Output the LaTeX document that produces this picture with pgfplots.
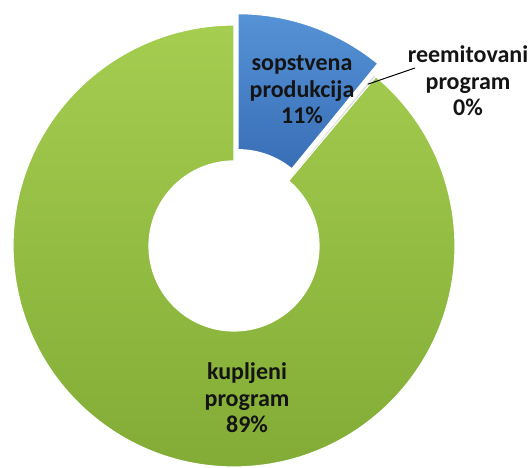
\documentclass[border=0pt]{standalone}
\usepackage{pgfplots}
\pgfplotsset{compat=1.18}
\usepackage{pgfplotstable}
\usepackage{fontspec}
\setmainfont{Carlito}

\definecolor{bluetop}{RGB}{86,146,214}
\definecolor{bluebot}{RGB}{56,110,182}
\definecolor{greentop}{RGB}{165,205,80}
\definecolor{greenbot}{RGB}{128,170,52}
\definecolor{tinyslice}{RGB}{225,225,225}
\definecolor{txt}{RGB}{20,20,20}

% share of program types, percent
\pgfplotstableread[col sep=comma]{
value,explode
10.9,12
0.2,0
88.9,0
}\sharetable

\pgfplotstablegetelem{0}{value}\of\sharetable \let\vA\pgfplotsretval
\pgfplotstablegetelem{1}{value}\of\sharetable \let\vB\pgfplotsretval
\pgfplotstablegetelem{2}{value}\of\sharetable \let\vC\pgfplotsretval
\pgfplotstablegetelem{0}{explode}\of\sharetable \let\eA\pgfplotsretval

\def\Rout{221pt}
\def\Rin{85pt}

% #1 start angle, #2 end angle, #3 explode (pt), #4 style
\newcommand\donutslice[4]{%
  \pgfmathsetmacro\midang{(#1+#2)/2}%
  \path[#4]
    ([shift={(\midang:#3pt)},shift={(#1:\Rout)}]axis cs:0,0)
    arc[start angle=#1, end angle=#2, radius=\Rout]
    -- ([shift={(\midang:#3pt)},shift={(#2:\Rin)}]axis cs:0,0)
    arc[start angle=#2, end angle=#1, radius=\Rin]
    -- cycle;}

\begin{document}
\begin{tikzpicture}
\begin{axis}[
  x=1pt, y=1pt,
  xmin=-234, xmax=294,
  ymin=-222, ymax=246,
  hide axis,
  clip=false,
]
\pgfplotsextra{
  \pgfmathsetmacro\aA{90}
  \pgfmathsetmacro\aB{90-3.6*\vA}
  \pgfmathsetmacro\aC{90-3.6*(\vA+\vB)}
  \pgfmathsetmacro\aD{90-3.6*(\vA+\vB+\vC)}
  \donutslice{\aC}{\aD}{0}{top color=greentop, bottom color=greenbot, draw=white, line width=1.2pt}
  \donutslice{\aB}{\aC}{0}{fill=tinyslice, draw=white, line width=0.6pt}
  \donutslice{\aA}{\aB}{\eA}{top color=bluetop, bottom color=bluebot, draw=white, line width=1.2pt}
  \pgfmathsetmacro\mB{(\aB+\aC)/2}
  \draw[black, line width=1pt] ([shift={(\mB:210pt)}]axis cs:0,0) -- (axis cs:181,178);
}
\begin{scope}[every node/.style={font=\bfseries\fontsize{24}{26.5}\selectfont, text=txt, align=center}]
\node at (axis cs:68,156) {sopstvena\\produkcija\\11\%};
\node at (axis cs:234,165) {reemitovani\\program\\0\%};
\node at (axis cs:13,-152) {kupljeni\\program\\89\%};
\end{scope}
\end{axis}
\pgfresetboundingbox
\useasboundingbox (current axis.south west) rectangle (current axis.north east);
\end{tikzpicture}
\end{document}
